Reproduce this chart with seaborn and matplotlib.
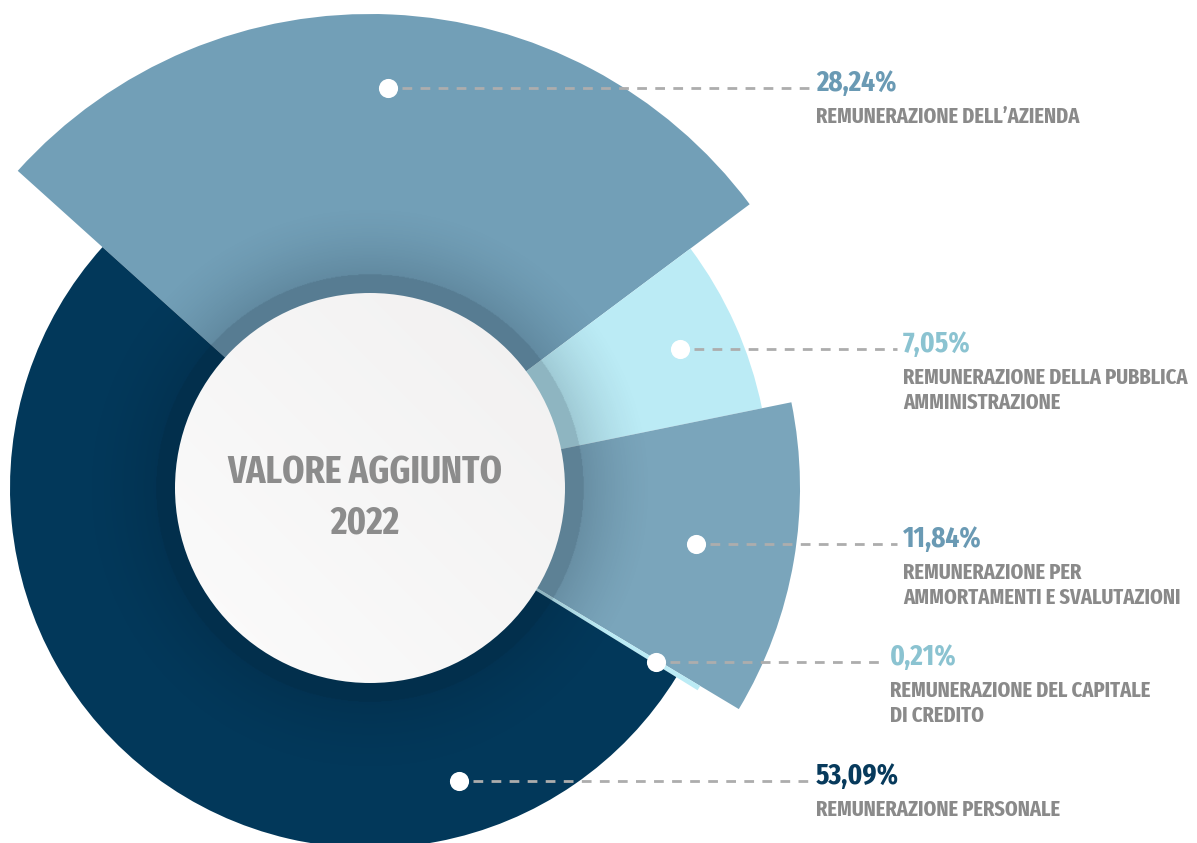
import os
import numpy as np
import matplotlib
matplotlib.use("Agg")
import matplotlib.pyplot as plt
import seaborn as sns
from matplotlib.patches import Circle
from matplotlib import font_manager as fm
from matplotlib.textpath import TextPath

# Distribuzione del valore aggiunto 2022 (quote percentuali)
categories = [
    "REMUNERAZIONE DELL’AZIENDA",
    "REMUNERAZIONE DELLA PUBBLICA\nAMMINISTRAZIONE",
    "REMUNERAZIONE PER\nAMMORTAMENTI E SVALUTAZIONI",
    "REMUNERAZIONE DEL CAPITALE\nDI CREDITO",
    "REMUNERAZIONE PERSONALE",
]
shares = [28.24, 7.05, 11.84, 0.21, 53.09]
share_labels = ["28,24%", "7,05%", "11,84%", "0,21%", "53,09%"]
center_lines = ["VALORE AGGIUNTO", "2022"]

# Style
slice_colors = ["#729fb7", "#bbebf5", "#7aa5bb", "#bbebf5", "#02385a"]
pct_colors = ["#6a9ab4", "#8bc3d1", "#6a9ab4", "#8bc3d1", "#073a5c"]
text_grey = "#8a8a8a"

sns.set_theme(style="white")
plt.rcParams["font.family"] = ["DejaVu Sans"]


def _weight_num(w):
    if isinstance(w, (int, float)):
        return float(w)
    return float(fm.weight_dict.get(str(w).lower(), 400))


def pick_narrow_bold():
    """Narrowest bold sans face available, DejaVu Sans Bold otherwise."""
    best, best_key = None, None
    for f in fm.fontManager.ttflist:
        tag = (f.name + " " + os.path.basename(f.fname)).lower().replace(" ", "")
        if any(b in tag for b in ("mono", "cjk", "math", "symbol", "emoji", "serif",
                                  "italic", "oblique")):
            continue
        if "extracondensed" in tag or "ultracondensed" in tag:
            width = 1
        elif "semicondensed" in tag:
            width = 3
        elif "condensed" in tag or "narrow" in tag or f.stretch != "normal":
            width = 2
        else:
            width = 9
        key = (width, abs(_weight_num(f.weight) - 700))
        if best_key is None or key < best_key:
            best, best_key = f, key
    if best is None or best_key[0] == 9:
        return fm.FontProperties(family="DejaVu Sans", weight="bold")
    return fm.FontProperties(fname=best.fname)


base_fp = pick_narrow_bold()


def fp_sized(size):
    p = base_fp.copy()
    p.set_size(size)
    return p


def fit_size(text, width_px, cap_px):
    """Font size (pt) giving the wanted width, limited by the cap height."""
    probe = fp_sized(100)
    w = TextPath((0, 0), text, prop=probe).get_extents().width * 100 / 72
    h = TextPath((0, 0), "H", prop=probe).get_extents().height * 100 / 72
    return min(100 * width_px / w, 100 * cap_px / h)


W, H = 1197, 843
fig = plt.figure(figsize=(W / 100, H / 100), dpi=100)
fig.patch.set_facecolor("white")
ax = fig.add_axes([0, 0, 1, 1])

cx, cy = 370, H - 488
slice_radius = [474, 400, 430, 385, 360]
hole_r = 195

wedges, _ = ax.pie(shares, colors=slice_colors, startangle=138, counterclock=False,
                   center=(cx, cy), radius=1.0,
                   wedgeprops=dict(linewidth=0, antialiased=True))
for w, r in zip(wedges, slice_radius):
    w.set_radius(r)
    w.set_zorder(1)

# soft inner shadow around the hub
R = 290
n = 700
g = np.linspace(-R, R, n)
X, Y = np.meshgrid(g, g)
rr = np.hypot(X, Y)
alpha = np.where(rr < 214, 0.25,
                 0.15 * np.clip((285 - rr) / (285 - 214), 0, 1) ** 1.5)
shade = np.zeros((n, n, 4))
shade[..., 0], shade[..., 1], shade[..., 2] = 0.02, 0.08, 0.14
shade[..., 3] = alpha
ax.imshow(shade, extent=[cx - R, cx + R, cy - R, cy + R], origin="lower",
          interpolation="bilinear", zorder=2)

# white hub with a light diagonal gradient
gh = np.linspace(-1, 1, 400)
HX, HY = np.meshgrid(gh, gh)
t = np.clip((HX + HY + 2) / 4, 0, 1)
c_light = np.array([0.988, 0.988, 0.988])
c_dark = np.array([0.945, 0.941, 0.941])
hub = c_light[None, None, :] + (c_dark - c_light)[None, None, :] * t[..., None]
hub_img = ax.imshow(hub, extent=[cx - hole_r, cx + hole_r, cy - hole_r, cy + hole_r],
                    origin="lower", interpolation="bilinear", zorder=3)
hub_clip = Circle((cx, cy), hole_r, transform=ax.transData, facecolor="none",
                  edgecolor="none")
ax.add_patch(hub_clip)
hub_img.set_clip_path(hub_clip)

title_fs = fit_size(center_lines[0], 275, 33)
ax.text(365, H - 483, center_lines[0], ha="center", va="baseline",
        fontproperties=fp_sized(title_fs), color="#8c8c8c", zorder=6)
ax.text(365, H - 533, center_lines[1], ha="center", va="baseline",
        fontproperties=fp_sized(title_fs), color="#8c8c8c", zorder=6)

# markers, leader lines and labels
pct_fs = fit_size("28,24%", 80, 22)
sub_fs = fit_size("REMUNERAZIONE PERSONALE", 243, 19.5)

dot_frac = [0.845, 0.85, 0.77, 0.87, 0.85]
dot_theta_override = [None, None, None, None, -73.0]
label_x = [816, 903, 903, 890, 816]

sub_texts = []
for i, w in enumerate(wedges):
    th = dot_theta_override[i]
    if th is None:
        th = 0.5 * (w.theta1 + w.theta2)
    rad = np.deg2rad(th)
    rd = dot_frac[i] * slice_radius[i]
    dx, dy = cx + rd * np.cos(rad), cy + rd * np.sin(rad)
    ax.plot([dx + 14, label_x[i] - 6], [dy, dy], color="#adadad", lw=2,
            ls=(0, (3.5, 3)), solid_capstyle="butt", zorder=5)
    ax.scatter([dx], [dy], s=190, color="white", linewidths=0, zorder=6)
    base = dy - 3
    ax.text(label_x[i], base, share_labels[i], ha="left", va="baseline",
            fontproperties=fp_sized(pct_fs), color=pct_colors[i], zorder=6)
    for k, line in enumerate(categories[i].split("\n")):
        sub_texts.append(ax.text(label_x[i], base - 32 - 25 * k, line, ha="left",
                                 va="baseline", fontproperties=fp_sized(sub_fs),
                                 color=text_grey, zorder=6))

ax.set_xlim(0, W)
ax.set_ylim(0, H)
ax.set_aspect("auto")
ax.axis("off")

# keep the longest label line inside the canvas
renderer = fig.canvas.get_renderer()
fs = sub_fs
while fs > 8:
    right = max(tx.get_window_extent(renderer).x1 for tx in sub_texts)
    if right <= W - 6:
        break
    fs -= 0.25
    for tx in sub_texts:
        tx.set_fontsize(fs)

fig.savefig("out.png", dpi=100, facecolor="white")
